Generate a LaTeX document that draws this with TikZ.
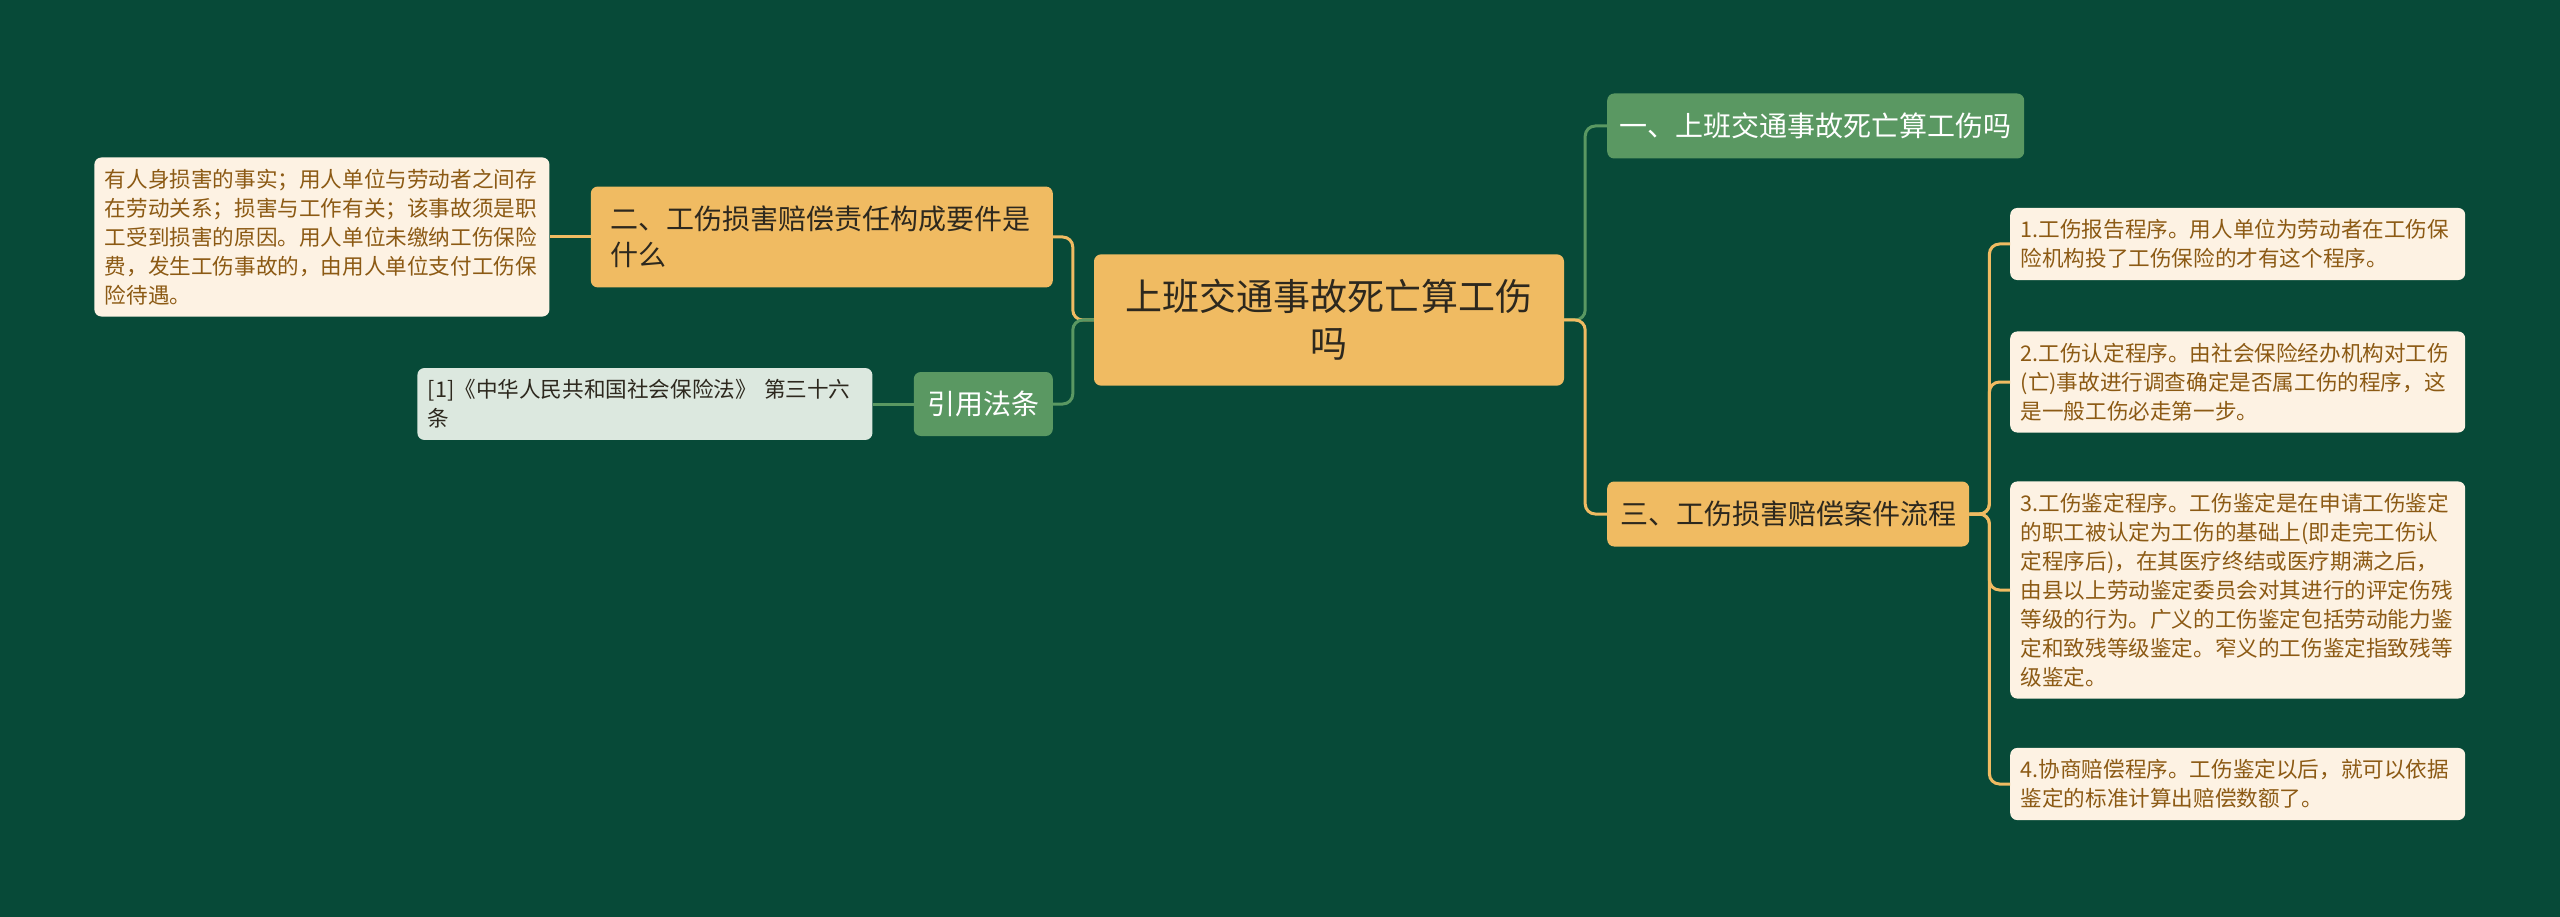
\documentclass[tikz,border=0pt]{standalone}
\usepackage{fontspec}
\setmainfont{Noto Sans CJK SC}
\usetikzlibrary{positioning}
\definecolor{bg}{RGB}{7,74,56}
\definecolor{orangefill}{RGB}{240,187,98}
\definecolor{greenfill}{RGB}{90,152,98}
\definecolor{creamfill}{RGB}{253,242,227}
\definecolor{reffill}{RGB}{220,232,223}
\definecolor{browntext}{RGB}{140,90,20}
\definecolor{darktext}{RGB}{45,40,30}

\begin{document}
\begin{tikzpicture}[x=1pt,y=-1pt,node distance=41pt,
  every node/.style={font=\fontsize{28}{36}\selectfont},
  topic/.style={rounded corners=7pt,fill=orangefill,text=darktext},
  gtopic/.style={rounded corners=7pt,fill=greenfill,text=white},
  leaf/.style={rounded corners=7pt,fill=creamfill,text=browntext,font=\fontsize{21.6}{29}\selectfont,text width=434pt,align=left,inner xsep=10.5pt,inner ysep=11.5pt},
  yline/.style={draw=orangefill,line width=3pt,rounded corners=10pt},
  gline/.style={draw=greenfill,line width=3pt,rounded corners=10pt}]
\fill[bg] (0,0) rectangle (2560,917);
\useasboundingbox (0,0) rectangle (2560,917);
\node[topic,font=\fontsize{37}{47}\selectfont,text width=410pt,align=center,inner xsep=30pt,inner ysep=25pt] (zhu) at (1329,320) {上班交通事故死亡算工伤\\吗};
\node[gtopic,anchor=west,inner xsep=12.5pt,minimum height=65pt] (yi) at (1607,126) {一、上班交通事故死亡算工伤吗};
\node[topic,anchor=west,inner xsep=13pt,minimum height=65pt] (san) at (1607,514) {三、工伤损害赔偿案件流程};
\node[topic,anchor=east,text width=422pt,align=left,inner xsep=20pt,inner ysep=19.5pt] (er) at (1053,237) {二、工伤损害赔偿责任构成要件是\\什么};
\node[gtopic,anchor=east,inner xsep=13.5pt,minimum height=64pt] (yinyong) at (1053,404) {引用法条};
\node[leaf,left=of er] (erleaf) {有人身损害的事实；用人单位与劳动者之间存\\在劳动关系；损害与工作有关；该事故须是职\\工受到损害的原因。用人单位未缴纳工伤保险\\费，发生工伤事故的，由用人单位支付工伤保\\险待遇。};
\node[leaf,left=of yinyong,fill=reffill,text=darktext] (falv) {[1]《中华人民共和国社会保险法》 第三十六\\条};
\node[leaf,anchor=west] (b1) at (2010,244) {1.工伤报告程序。用人单位为劳动者在工伤保\\险机构投了工伤保险的才有这个程序。};
\node[leaf,anchor=west] (b2) at (2010,382) {2.工伤认定程序。由社会保险经办机构对工伤\\(亡)事故进行调查确定是否属工伤的程序，这\\是一般工伤必走第一步。};
\node[leaf,anchor=west] (b3) at (2010,590) {3.工伤鉴定程序。工伤鉴定是在申请工伤鉴定\\的职工被认定为工伤的基础上(即走完工伤认\\定程序后)，在其医疗终结或医疗期满之后，\\由县以上劳动鉴定委员会对其进行的评定伤残\\等级的行为。广义的工伤鉴定包括劳动能力鉴\\定和致残等级鉴定。窄义的工伤鉴定指致残等\\级鉴定。};
\node[leaf,anchor=west] (b4) at (2010,784) {4.协商赔偿程序。工伤鉴定以后，就可以依据\\鉴定的标准计算出赔偿数额了。};
\draw[gline] (zhu.east) -- ++(21,0) |- (yi.west);
\draw[yline] (zhu.east) -- ++(21,0) |- (san.west);
\draw[yline] (zhu.west) -- ++(-21,0) |- (er.east);
\draw[gline] (zhu.west) -- ++(-21,0) |- (yinyong.east);
\draw[yline] (er.west) -- (erleaf.east);
\draw[gline] (yinyong.west) -- (falv.east);
\foreach \b in {b1,b2,b3,b4}
  \draw[yline] (san.east) -- ++(20,0) |- (\b.west);
\end{tikzpicture}
\end{document}
